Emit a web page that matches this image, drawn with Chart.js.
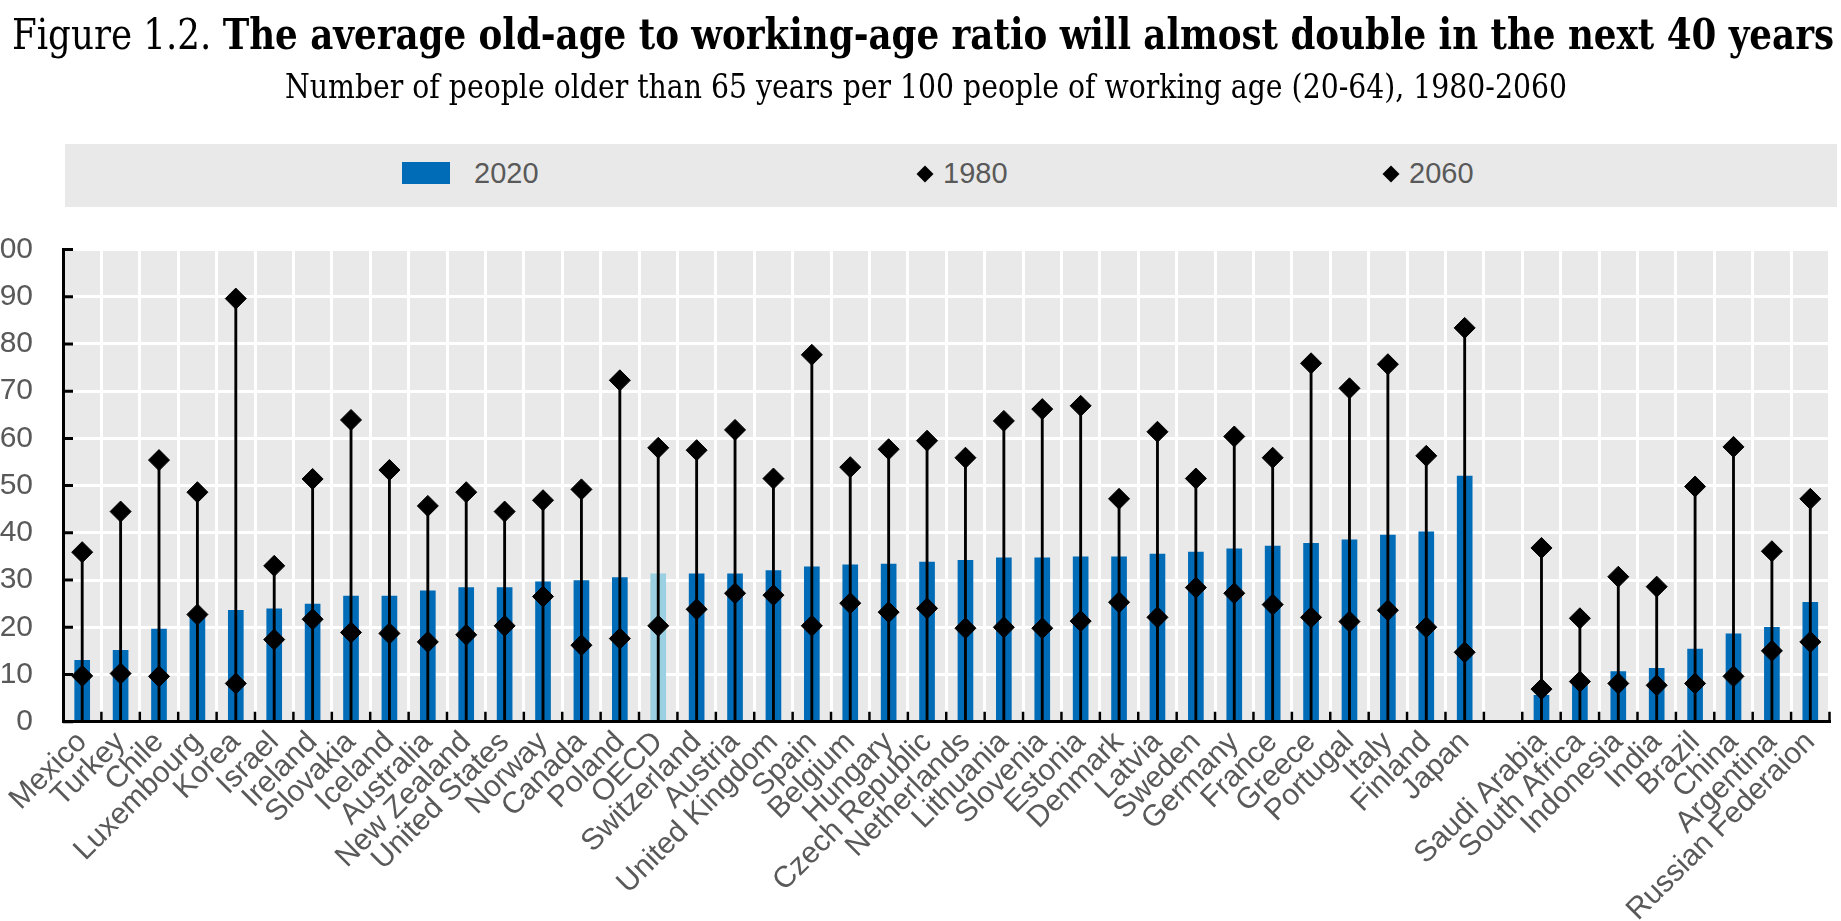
<!DOCTYPE html>
<html>
<head>
<meta charset="utf-8">
<script src="https://cdn.jsdelivr.net/npm/chart.js@4.4.1/dist/chart.umd.min.js"></script>
<style>
html,body{margin:0;padding:0;background:#fff;width:1841px;height:921px;overflow:hidden;}
#wrap{position:relative;width:1841px;height:921px;}
#chart{position:absolute;left:0;top:0;}
.ttl{position:absolute;left:0;width:1841px;height:60px;line-height:1;white-space:nowrap;color:#000;}
.ttl .inner{position:absolute;top:0;display:inline-block;transform-origin:0 0;}
#title{font-family:"DejaVu Serif Condensed","DejaVu Serif",serif;font-size:34px;}
#title b{font-weight:bold;}
#subtitle{font-family:"DejaVu Serif Condensed","DejaVu Serif",serif;font-size:26px;}
#legend{position:absolute;left:65px;top:144px;width:1772px;height:63px;background:#e9e9e9;}
.lg-txt{position:absolute;font-family:"Liberation Sans Narrow","Arial Narrow","Liberation Sans",sans-serif;font-size:29px;color:#595959;line-height:1;top:15px;}
.lg-rect{position:absolute;}
.lg-dia{position:absolute;transform:rotate(45deg);}
</style>
</head>
<body>
<div id="wrap">
  <canvas id="chart" width="1841" height="921"></canvas>
  <div id="title" class="ttl"><span class="inner">Figure 1.2. <b>The average old-age to working-age ratio will almost double in the next 40 years</b></span></div>
  <div id="subtitle" class="ttl"><span class="inner">Number of people older than 65 years per 100 people of working age (20-64), 1980-2060</span></div>
  <div id="legend"></div>
</div>
<script>
// ---------------- data ----------------
const categories = ['Mexico','Turkey','Chile','Luxembourg','Korea','Israel','Ireland','Slovakia','Iceland','Australia','New Zealand','United States','Norway','Canada','Poland','OECD','Switzerland','Austria','United Kingdom','Spain','Belgium','Hungary','Czech Republic','Netherlands','Lithuania','Slovenia','Estonia','Denmark','Latvia','Sweden','Germany','France','Greece','Portugal','Italy','Finland','Japan','','Saudi Arabia','South Africa','Indonesia','India','Brazil','China','Argentina','Russian Federaion'];

const values2020 = [13.0,15.1,19.6,22.2,23.6,23.9,24.9,26.6,26.6,27.7,28.4,28.4,29.6,29.9,30.5,31.3,31.3,31.3,32.0,32.8,33.2,33.4,33.8,34.2,34.7,34.7,34.9,34.9,35.5,35.9,36.6,37.2,37.8,38.5,39.5,40.2,52.0,null,5.6,8.0,10.6,11.3,15.4,18.6,20.0,25.3];

const values1980 = [9.7,10.2,9.6,22.7,8.1,17.4,21.7,18.9,18.7,16.9,18.4,20.3,26.5,16.2,17.6,20.3,23.8,27.2,26.8,20.3,25.1,23.2,24.0,19.8,20.0,19.8,21.3,25.3,22.1,28.4,27.2,24.8,22.1,21.2,23.6,20.0,14.7,null,6.9,8.5,8.1,7.7,8.1,9.6,15.0,16.9];

const values2060 = [35.9,44.5,55.4,48.6,89.6,33.0,51.4,63.9,53.3,45.7,48.6,44.5,46.9,49.2,72.3,58.0,57.5,61.8,51.5,77.7,53.9,57.7,59.5,55.9,63.7,66.2,66.9,47.2,61.4,51.5,60.4,55.9,75.9,70.6,75.7,56.3,83.4,null,36.8,21.9,30.7,28.6,49.8,58.2,36.1,47.2];

const yTickMin = 0, yTickMax = 100, yTickStep = 10;
const seriesLabels = ['2020', '1980', '2060'];
const highlightCategory = 'OECD';

// ---------------- styles ----------------
const BLUE = '#006bb6', LIGHT_BLUE = '#9bd0e2', PLOT_BG = '#e9e9e9', LABEL = '#595959';
const SANS = '"Liberation Sans Narrow","Arial Narrow","Liberation Sans",sans-serif';

// ---------------- title fitting ----------------
function fitText(id, targetWidth, centerX, baseline, grow) {
  const el = document.getElementById(id);
  const inner = el.querySelector('.inner');
  const fs = parseFloat(getComputedStyle(el).fontSize);
  const w = inner.getBoundingClientRect().width;
  const nfs = fs * targetWidth / w * grow;
  el.style.fontSize = nfs + 'px';
  const w2 = inner.getBoundingClientRect().width;
  inner.style.left = (centerX - targetWidth / 2) + 'px';
  inner.style.transform = 'scaleX(' + (targetWidth / w2) + ')';
  el.style.top = (baseline - 0.846 * nfs) + 'px';
}
fitText('title', 1822, 923, 49, 1.1);
fitText('subtitle', 1282, 926, 98, 1.05);

// ---------------- legend (HTML) ----------------
const legendItems = [
  {label: seriesLabels[0], kind: 'rect', color: BLUE, markX: 337, textX: 409},
  {label: seriesLabels[1], kind: 'diamond', color: '#000', markX: 860, textX: 878},
  {label: seriesLabels[2], kind: 'diamond', color: '#000', markX: 1326, textX: 1344}
];
const legendEl = document.getElementById('legend');
legendItems.forEach(it => {
  const m = document.createElement('div');
  if (it.kind === 'rect') {
    m.className = 'lg-rect';
    Object.assign(m.style, {left: it.markX + 'px', top: '18px', width: '48px', height: '22px', background: it.color});
  } else {
    m.className = 'lg-dia';
    const s = 12;
    Object.assign(m.style, {left: (it.markX - s / 2) + 'px', top: (30 - s / 2) + 'px', width: s + 'px', height: s + 'px', background: it.color});
  }
  legendEl.appendChild(m);
  const t = document.createElement('div');
  t.className = 'lg-txt';
  t.style.left = it.textX + 'px';
  t.textContent = it.label;
  legendEl.appendChild(t);
});

// ---------------- plugins ----------------
const decor = {
  id: 'decor',
  beforeDraw(chart) {
    const {ctx, chartArea: a} = chart;
    ctx.save();
    ctx.fillStyle = PLOT_BG;
    ctx.fillRect(a.left, a.top, a.right - a.left, a.bottom - a.top);
    ctx.restore();
  },
  afterDraw(chart) {
    const {ctx, chartArea: a, scales: {x, y}} = chart;
    ctx.save();
    ctx.strokeStyle = '#000';
    ctx.lineWidth = 3;
    ctx.beginPath();
    y.ticks.forEach(t => {
      const py = y.getPixelForValue(t.value);
      ctx.moveTo(a.left, py);
      ctx.lineTo(a.left + 10, py);
    });
    ctx.stroke();
    ctx.lineWidth = 2.5;
    ctx.beginPath();
    const n = x.ticks.length;
    const half = (x.getPixelForValue(1) - x.getPixelForValue(0)) / 2;
    for (let i = 0; i < n; i++) {
      const px = x.getPixelForValue(i) + half;
      ctx.moveTo(px, a.bottom);
      ctx.lineTo(px, a.bottom - 10);
    }
    ctx.stroke();
    ctx.restore();
  }
};

// ---------------- chart ----------------
new Chart(document.getElementById('chart'), {
  type: 'bar',
  data: {
    labels: categories,
    datasets: [
      {type: 'line', label: seriesLabels[1], data: values1980, showLine: false, pointStyle: 'rectRot',
       pointRadius: 10.5, pointHoverRadius: 10.5, pointBackgroundColor: '#000', pointBorderColor: '#000', pointBorderWidth: 1, order: 1},
      {type: 'line', label: seriesLabels[2], data: values2060, showLine: false, pointStyle: 'rectRot',
       pointRadius: 10.5, pointHoverRadius: 10.5, pointBackgroundColor: '#000', pointBorderColor: '#000', pointBorderWidth: 1, order: 1},
      {type: 'bar', label: 'range', data: values2060, backgroundColor: '#000', barThickness: 2.2, grouped: false, order: 2},
      {type: 'bar', label: seriesLabels[0], data: values2020,
       backgroundColor: categories.map(c => c === highlightCategory ? LIGHT_BLUE : BLUE),
       barThickness: 15, grouped: false, order: 3}
    ]
  },
  options: {
    responsive: false,
    animation: false,
    devicePixelRatio: 1,
    layout: {padding: {top: 249.5, right: 8, left: 0, bottom: 0}},
    plugins: {legend: {display: false}, tooltip: {enabled: false}, title: {display: false}},
    events: [],
    scales: {
      x: {
        offset: true,
        grid: {color: '#fff', lineWidth: 3, offset: true, drawTicks: false},
        border: {display: true, color: '#000', width: 3, z: 1},
        ticks: {autoSkip: false, maxRotation: 45, minRotation: 45, color: LABEL, padding: 3,
                font: {family: SANS, size: 30}},
        afterFit(s) { s.height = 921 - 721.7; }
      },
      y: {
        min: yTickMin, max: yTickMax,
        grid: {color: '#fff', lineWidth: 3, drawTicks: false},
        border: {display: true, color: '#000', width: 3, z: 1},
        ticks: {stepSize: yTickStep, color: LABEL, padding: 30, font: {family: SANS, size: 30}},
        afterFit(s) { s.width = 63; }
      }
    }
  },
  plugins: [decor]
});
</script>
</body>
</html>
